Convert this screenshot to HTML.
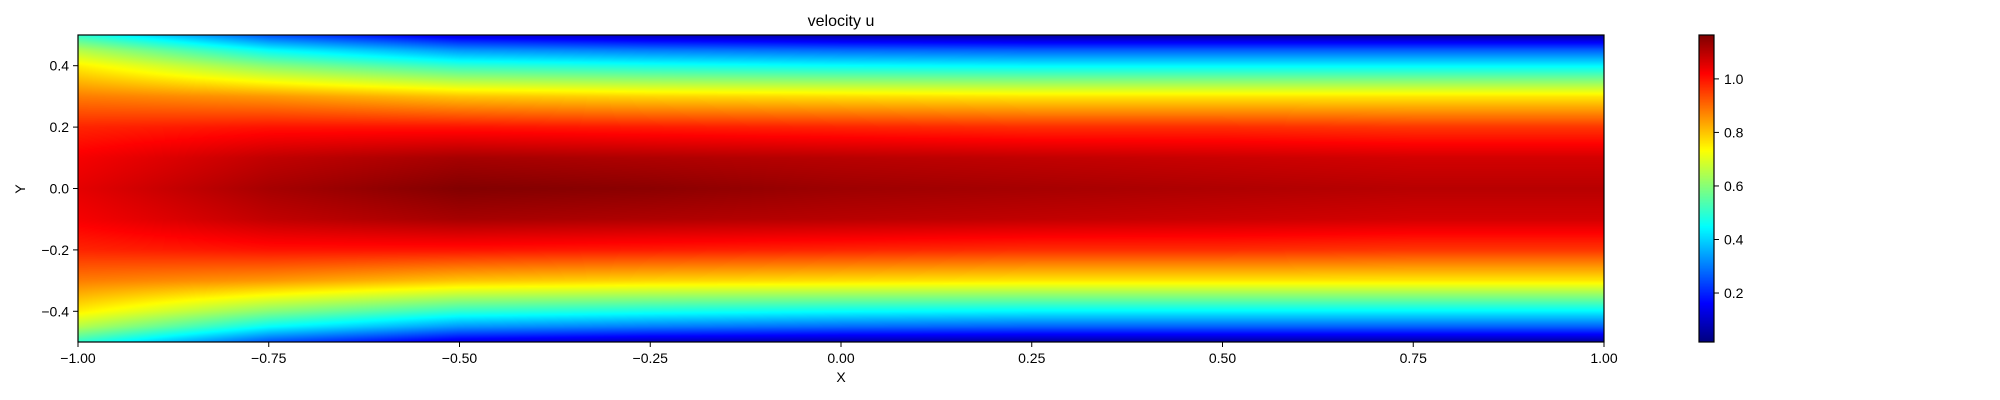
<!DOCTYPE html>
<html><head><meta charset="utf-8"><style>
body{margin:0;background:#fff;width:2000px;height:400px;overflow:hidden;font-family:"Liberation Sans",sans-serif}
#wrap{position:relative;width:2000px;height:400px}
canvas{position:absolute}
svg{position:absolute;left:0;top:0}
text{font-family:"Liberation Sans",sans-serif;font-size:14px;fill:#000}
</style></head><body>
<div id="wrap">
<canvas id="field" width="1526" height="307" style="left:78px;top:35px"></canvas>
<canvas id="cbar" width="15" height="307" style="left:1699px;top:35px"></canvas>
<svg id="ax" width="2000" height="400"></svg>
</div>
<script>
const xGrid=[-1,-0.75,-0.5,-0.25,0,0.25,0.5,0.75,1];
const yGrid=[0,0.1,0.2,0.3,0.4,0.45,0.5];
const uCols=[
[1.05,1.03,0.98,0.88,0.75,0.65,0.5],
[1.12,1.09,1.0,0.85,0.6,0.45,0.25],
[1.16,1.12,1.0,0.8,0.5,0.33,0.12],
[1.15,1.11,0.99,0.78,0.47,0.3,0.08],
[1.13,1.10,0.98,0.77,0.45,0.28,0.06],
[1.12,1.09,0.97,0.76,0.44,0.27,0.05],
[1.11,1.08,0.97,0.76,0.44,0.27,0.05],
[1.10,1.07,0.96,0.76,0.44,0.27,0.05],
[1.10,1.07,0.96,0.76,0.44,0.27,0.05]];
const xTicks=[-1,-0.75,-0.5,-0.25,0,0.25,0.5,0.75,1];
const xTickLabels=["−1.00","−0.75","−0.50","−0.25","0.00","0.25","0.50","0.75","1.00"];
const yTicks=[0.4,0.2,0,-0.2,-0.4];
const yTickLabels=["0.4","0.2","0.0","−0.2","−0.4"];
const cTicks=[1.0,0.8,0.6,0.4,0.2];
const cTickLabels=["1.0","0.8","0.6","0.4","0.2"];
const vmin=0.017,vmax=1.164;

const L=78,R=1604,T=35,B=342;
const sx=x=>L+(x+1)/2*(R-L);
const sy=y=>T+(0.5-y)*(B-T);
const sc=v=>B-(v-vmin)/(vmax-vmin)*(B-T);

function jet(t){t=Math.max(0,Math.min(1,t));
 const f=(a)=>Math.max(0,Math.min(1,1.5-Math.abs(4*t-a)));
 return [f(3)*255,f(2)*255,f(1)*255];}
function seg(arr,v){let i=0;while(i<arr.length-2&&v>arr[i+1])i++;const t=(v-arr[i])/(arr[i+1]-arr[i]);return [i,Math.max(0,Math.min(1,t))];}
function val(x,y){const ay=Math.abs(y);const [i,tx]=seg(xGrid,x);const [j,ty]=seg(yGrid,ay);
 const a=uCols[i][j]*(1-ty)+uCols[i][j+1]*ty, b=uCols[i+1][j]*(1-ty)+uCols[i+1][j+1]*ty;return a*(1-tx)+b*tx;}

const c=document.getElementById('field'),ctx=c.getContext('2d');
const img=ctx.createImageData(c.width,c.height);
for(let py=0;py<c.height;py++){const y=0.5-(py+0.5)/c.height;
 for(let px=0;px<c.width;px++){const x=-1+2*(px+0.5)/c.width;
  const col=jet((val(x,y)-vmin)/(vmax-vmin));const k=(py*c.width+px)*4;
  img.data[k]=col[0];img.data[k+1]=col[1];img.data[k+2]=col[2];img.data[k+3]=255;}}
ctx.putImageData(img,0,0);
const cb=document.getElementById('cbar'),cctx=cb.getContext('2d');
for(let py=0;py<cb.height;py++){const col=jet(1-(py+0.5)/cb.height);cctx.fillStyle=`rgb(${col[0]|0},${col[1]|0},${col[2]|0})`;cctx.fillRect(0,py,cb.width,1);}

const svg=document.getElementById('ax');const NS='http://www.w3.org/2000/svg';
function mk(tag,attrs,txt){const e=document.createElementNS(NS,tag);for(const k in attrs)e.setAttribute(k,attrs[k]);if(txt!==undefined)e.textContent=txt;svg.appendChild(e);return e;}
let e;
e=mk('rect',{x:L,y:T,width:R-L,height:B-T,fill:'none',stroke:'#000','stroke-width':1.2});


e=mk('rect',{x:1699,y:T,width:15,height:B-T,fill:'none',stroke:'#000','stroke-width':1.2});


xTicks.forEach((v,i)=>{mk('line',{x1:sx(v),x2:sx(v),y1:B,y2:B+5,stroke:'#000'});
 e=mk('text',{x:sx(v),y:B+21,'text-anchor':'middle'},xTickLabels[i]);
 
 });
yTicks.forEach((v,i)=>{mk('line',{x1:L-5,x2:L,y1:sy(v),y2:sy(v),stroke:'#000'});
 e=mk('text',{x:L-9,y:sy(v)+5,'text-anchor':'end'},yTickLabels[i]);
 
 });
cTicks.forEach((v,i)=>{mk('line',{x1:1714,x2:1719,y1:sc(v),y2:sc(v),stroke:'#000'});
 e=mk('text',{x:1724,y:sc(v)+5},cTickLabels[i]);
 
 });
e=mk('text',{x:(L+R)/2,y:26,'text-anchor':'middle',style:'font-size:16px'},'velocity u');


e=mk('text',{x:(L+R)/2,y:382,'text-anchor':'middle'},'X');


e=mk('text',{x:25,y:189,'text-anchor':'middle',transform:'rotate(-90 25 189)'},'Y');


</script>
</body></html>
